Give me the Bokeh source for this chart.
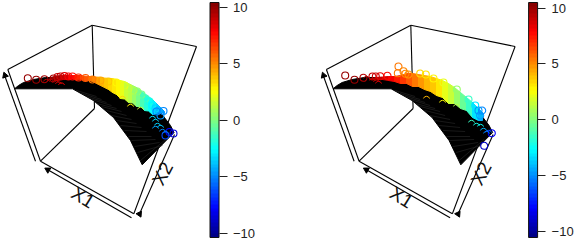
import numpy as np
from bokeh.plotting import figure
from bokeh.layouts import row
from bokeh.models import (Range1d, LinearColorMapper, ColorBar, FixedTicker, ColumnDataSource, Label)
from bokeh.embed import file_html
from bokeh.resources import INLINE

FONT = "Liberation Sans"
TICKS = [-10, -5, 0, 5, 10]
TICK_TEXT = {-10: "\u221210", -5: "\u22125", 0: "0", 5: "5", 10: "10"}

# surface outline, projected (left panel frame)
surf_x = [14, 18, 23, 33, 45, 60, 80, 100, 115, 133, 150, 157, 170, 173.5, 141.7, 130, 113, 93, 72, 14]
surf_y = [88.3, 85, 82, 79, 77, 77, 79, 82, 86, 94, 102, 108, 125, 132, 164.3, 140, 117, 100, 88.3, 88.3]
# mesh stripes
mesh_low_x = [76, 81, 86, 91, 96, 101, 106, 111, 116, 120, 124, 128, 131, 134, 137, 140]
mesh_low_y = [90, 93, 96, 99, 103, 106, 110, 115, 120, 125, 130, 136, 140, 146, 152, 160]
mesh_high_x = [96, 101, 106, 111, 116, 121, 126, 131, 136, 141, 146, 151, 155, 159, 162, 165]
mesh_high_y = [96, 99, 102, 105, 108, 111, 115, 119, 123, 127, 131, 136, 139, 142, 145, 139]

# left panel: dense band of points
lb_x = [50, 56, 60, 64, 68, 72, 76, 80, 84, 88, 92, 96, 100, 104, 108, 112, 116, 120, 124, 128, 132, 136, 140, 144, 148, 152, 156, 160, 164]
lb_t = [77, 75.5, 75, 74.5, 74.5, 75, 75, 75, 75.5, 76, 76, 76.5, 77, 77.5, 78, 78, 79, 80, 81, 83, 85, 87, 90, 93, 96, 99, 103, 107, 111]
lb_b = [79, 78.5, 79, 78, 79, 78.5, 79.5, 79, 80, 80, 81, 83, 85, 87, 89, 92, 94, 98, 98.5, 102, 102.5, 106, 106, 110, 110.5, 114, 113, 112, 113]
lb_z = [9.8, 9.5, 9, 8.5, 8, 7.5, 7, 6.5, 6, 5.5, 5, 4.6, 4.2, 3.8, 3.4, 3, 2.6, 2.2, 1.6, 1, 0.4, -0.2, -1, -1.8, -2.6, -3.2, -4, -4.6, -5.2]
# left panel: separate circles
lc_x = [27.3, 35.7, 44, 53, 57, 60, 64, 68, 72, 78, 85, 92, 100, 108, 116, 124, 128, 133, 137, 141, 145, 149, 152, 155, 158, 156, 163, 160, 169, 173, 165]
lc_y = [77.7, 79.3, 78.7, 78, 76.5, 76, 75.5, 76, 76, 77, 77.5, 79, 80, 81, 82, 85, 88, 90, 91, 94, 98, 101, 105, 108, 110, 111, 110.5, 115, 131.5, 133, 135]
lc_z = [10, 10, 9.6, 9.5, 9, 8.8, 8.5, 8, 7.6, 7, 6, 5.2, 4.4, 3.6, 2.8, 2, 1.4, 1, 0.4, -0.2, -1, -2, -2.8, -3.4, -4, -5, -5.2, -4.6, -8, -8.6, -6.5]
# left panel: points half hidden by the surface
la_x = [46, 50, 55, 58, 61, 122, 130, 140, 152, 155, 157, 155, 160, 162, 165]
la_y = [82, 82, 83, 84.5, 85.5, 99, 107, 110, 119, 122, 126, 129, 128, 132, 134]
la_z = [9.4, 9.2, 9, 8.6, 8.2, 3.4, 2.8, 1.6, -3, -3.5, -3.5, -4.5, -3.8, -5, -5.5]

# right panel: dense band of points
rb_x = [370, 376, 382, 388, 394, 400, 406, 412, 418, 424, 430, 436, 442, 448, 454, 460, 466, 472, 478, 482]
rb_t = [78, 77, 76.5, 76, 76, 75, 73, 73, 74, 75, 76, 78, 80, 83, 87, 92, 97, 102, 108, 112]
rb_b = [79, 78, 79, 80, 81, 83, 83, 86, 86, 89, 91, 95, 97, 103, 103, 108, 110, 117, 120, 120]
rb_z = [9.6, 9, 8.6, 8, 7.4, 6.6, 6, 5.4, 4.8, 4.2, 3.6, 3, 2.2, 1.4, 0.6, -0.4, -1.6, -3, -4.2, -5]
# right panel: separate circles
rc_x = [344.7, 354, 363, 372, 375.3, 379.7, 387, 398, 397.3, 403, 405, 408, 419.7, 425.3, 433, 443, 456.3, 468, 474.7, 481.7, 478, 479.7, 491.3, 483.7]
rc_y = [75, 79.3, 77.3, 76, 76, 75.7, 75.3, 66, 72.7, 70.7, 73.3, 74, 73, 74, 78, 82, 89, 99, 105, 110, 110, 115, 132.7, 145.3]
rc_z = [10, 9.8, 9.4, 9, 8.8, 8.4, 7.6, 5.2, 5.4, 5, 5, 4.8, 3.4, 3.2, 2.8, 2, 0.4, -1.4, -3, -5, -4.6, -4.8, -8, -9]
# right panel: points half hidden by the surface
ra_x = [366, 372, 376, 378, 426, 442, 456, 471, 476, 480, 483, 486, 488]
ra_y = [79, 81, 82.5, 84, 99, 103, 107, 123, 126, 127, 131, 134, 133]
ra_z = [9.6, 9.2, 8.8, 8.6, 4, 2.6, 1, -1.5, -2, -2.5, -4, -5, -6]

# colour scale (tim.colors style)
stops = np.array([[0, 0, .5], [0, 0, 1], [0, 1, 1], [1, 1, 0], [1, 0, 0], [.5, 0, 0]])
at = np.array([0, .125, .375, .625, .875, 1])
pos = (np.arange(64) + .5) / 64
palette = ["#%02x%02x%02x" % tuple(int(round(255 * np.interp(t, at, stops[:, c]))) for c in range(3)) for t in pos]


def add_box(p, dx):
    box = [
        ([91.7, 7.3], [24.7, 69]), ([91.7, 196], [24.7, 46]), ([91.7, 94], [24.7, 108]),
        ([7.3, 40], [69, 160.7]), ([40, 133.3], [160.7, 213.3]), ([133.3, 196], [213.3, 46]),
        ([40, 94], [160.7, 108]),
        ([4.5, 35], [76, 160.7]), ([47.3, 131], [169.3, 217.3]), ([138.3, 174], [215, 134]),
    ]
    p.multi_line([[v + dx for v in b[0]] for b in box], [b[1] for b in box], line_color="black", line_width=1.1)
    # axis arrowheads
    p.scatter([4.5 + dx], [75], marker="triangle", size=6, angle=0.34, fill_color="black", line_color="black")
    p.scatter([47.3 + dx], [169.3], marker="triangle", size=6, angle=1.05, fill_color="black", line_color="black")
    p.scatter([139 + dx], [213.5], marker="triangle", size=6, angle=-2.7, fill_color="black", line_color="black")


def panel(dx, x_start, bx, bt, bb, bz, cx, cy, cz, ax, ay, az, low, high):
    p = figure(width=288, height=240, x_range=Range1d(x_start, x_start + 288), y_range=Range1d(240, 0),
               output_backend="svg", toolbar_location=None, min_border=0, outline_line_color=None)
    p.axis.visible = False
    p.grid.visible = False
    add_box(p, dx)
    p.patch([v + dx for v in surf_x], surf_y, fill_color="black", line_color="black")
    p.segment([v + dx for v in mesh_low_x], mesh_low_y, [v + dx for v in mesh_high_x], mesh_high_y,
              line_color="#2a2a2a", line_width=0.6)
    mapper = LinearColorMapper(palette=palette, low=low, high=high)
    z_map = LinearColorMapper(palette=palette, low=-10.4, high=10.4)
    quads = ColumnDataSource(dict(
        xs=[[bx[i], bx[i + 1], bx[i + 1], bx[i]] for i in range(len(bx) - 1)],
        ys=[[bt[i], bt[i + 1], bb[i + 1], bb[i]] for i in range(len(bx) - 1)],
        z=bz[:-1]))
    cm = dict(field="z", transform=z_map)
    p.patches("xs", "ys", source=quads, fill_color=cm, line_color=cm, line_width=1)
    src = ColumnDataSource(dict(x=cx, y=cy, z=cz))
    p.scatter("x", "y", source=src, size=7, fill_color=None, line_width=1.1, line_color=cm)
    arcs = ColumnDataSource(dict(x=ax, y=ay, z=az))
    p.arc("x", "y", source=arcs, radius=3.2, start_angle=0.3, end_angle=2.8, line_color=cm, line_width=1)
    p.add_layout(Label(x=82.5 + dx, y=197, text="X1", angle=-32, angle_units="deg", text_font=FONT,
                       text_font_size="19px", text_align="center", text_baseline="middle", text_color="#111111"))
    p.add_layout(Label(x=162 + dx, y=173, text="X2", angle=62, angle_units="deg", text_font=FONT,
                       text_font_size="19px", text_align="center", text_baseline="middle", text_color="#111111"))
    cb = ColorBar(color_mapper=mapper, ticker=FixedTicker(ticks=TICKS), major_label_overrides=TICK_TEXT,
                  location=(209.5 + dx - (x_start), 3), width=9, height=235, padding=0,
                  major_tick_in=0, major_tick_out=8, major_tick_line_color="#222222", major_tick_line_width=1,
                  minor_tick_line_color=None, bar_line_color="#111111", bar_line_width=1,
                  major_label_text_font=FONT, major_label_text_font_size="13px", major_label_text_color="#222222",
                  background_fill_color=None, border_line_color=None, label_standoff=6)
    p.add_layout(cb, "center")
    return p


p1 = panel(0, 0, lb_x, lb_t, lb_b, lb_z, lc_x, lc_y, lc_z, la_x, la_y, la_z, -10.35, 10.4)
p2 = panel(318.6, 288, rb_x, rb_t, rb_b, rb_z, rc_x, rc_y, rc_z, ra_x, ra_y, ra_z, -10.58, 10.5)
layout = row(p1, p2, spacing=0)
open("out.html", "w").write(file_html(layout, INLINE))
